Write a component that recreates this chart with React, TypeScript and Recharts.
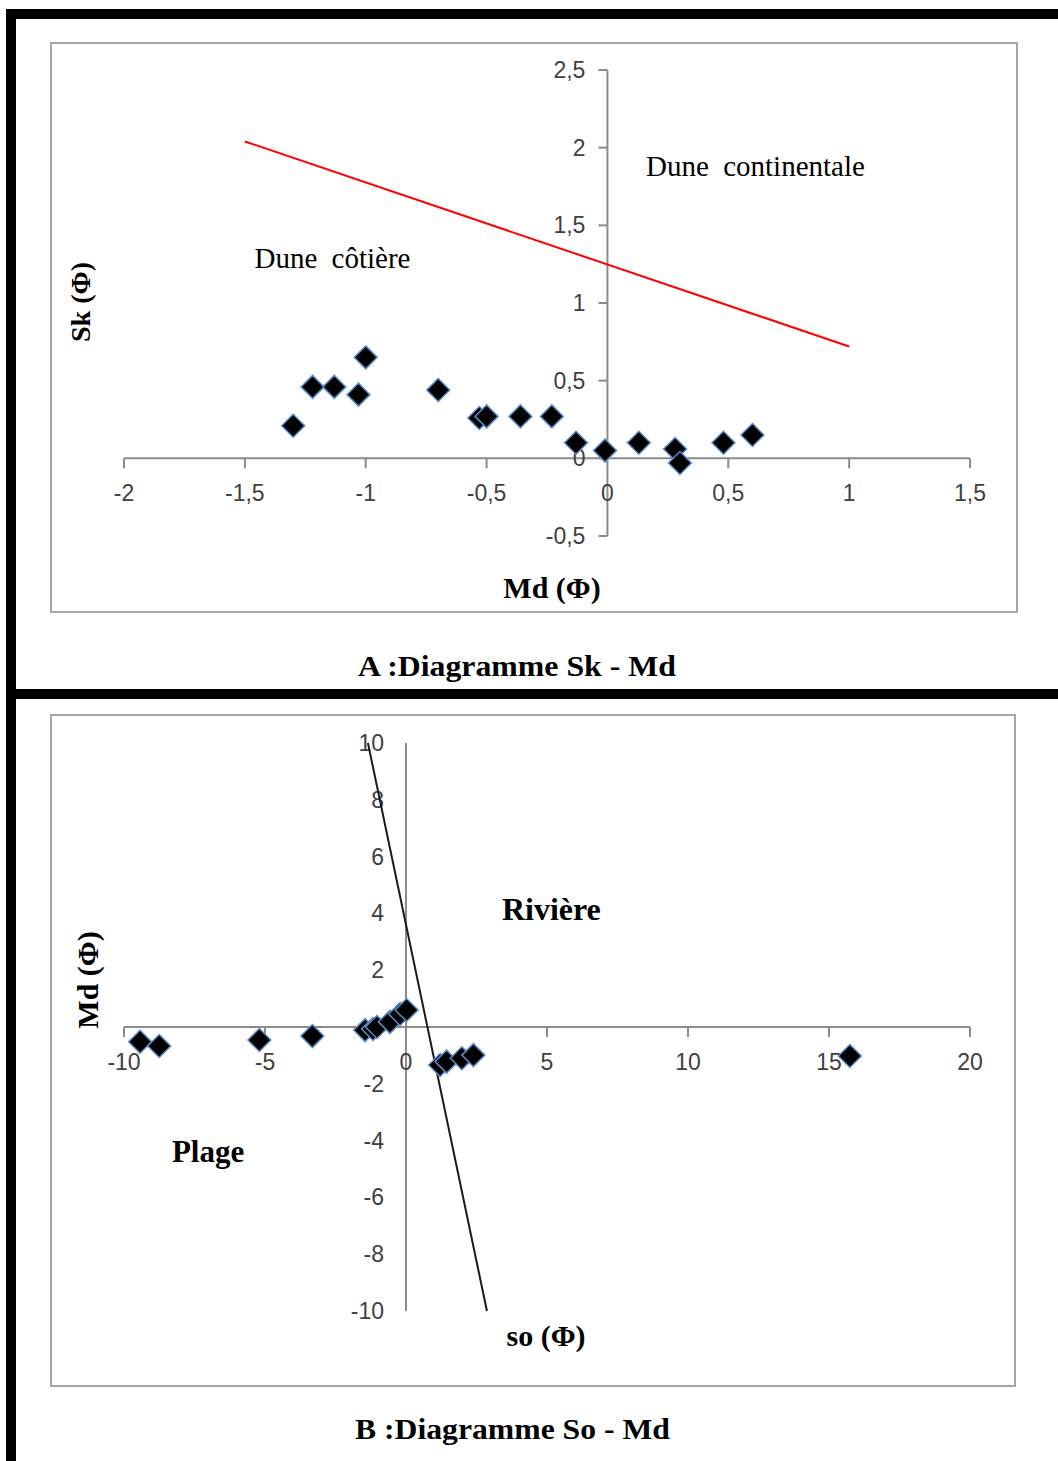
import React from "react";
import {
  ReferenceDot,
  ReferenceLine,
  Scatter,
  ScatterChart,
  XAxis,
  YAxis,
} from "recharts";

// A : Sk - Md
const mdA = [-1.3, -1.22, -1.13, -1.03, -1.0, -0.7, -0.53, -0.5, -0.36, -0.23, -0.13, -0.01, 0.13, 0.28, 0.3, 0.48, 0.6];
const skA = [0.21, 0.46, 0.46, 0.41, 0.65, 0.44, 0.26, 0.27, 0.27, 0.27, 0.1, 0.05, 0.1, 0.06, -0.03, 0.1, 0.15];
const redLineMd = [-1.5, 1];
const redLineSk = [2.04, 0.72];
const xTicksA = [-2, -1.5, -1, -0.5, 0, 0.5, 1, 1.5];
const yTicksA = [-0.5, 0, 0.5, 1, 1.5, 2, 2.5];

// B : So - Md
const soB = [-9.43, -8.75, -5.2, -3.32, -1.45, -1.17, -1.03, -0.57, -0.21, 0.02, 1.21, 1.44, 1.98, 2.39, 15.74];
const mdB = [-0.52, -0.67, -0.46, -0.32, -0.11, -0.07, 0.0, 0.18, 0.46, 0.6, -1.34, -1.22, -1.1, -0.99, -1.02];
const blackLineSo = [-1.35, 2.87];
const blackLineMd = [10, -10];
const xTicksB = [-10, -5, 0, 5, 10, 15, 20];
const yTicksB = [-10, -8, -6, -4, -2, 0, 2, 4, 6, 8, 10];

const pointsA = mdA.map((x, i) => ({ x, y: skA[i] }));
const pointsB = soB.map((x, i) => ({ x, y: mdB[i] }));
const redLine = redLineMd.map((x, i) => ({ x, y: redLineSk[i] }));
const blackLine = blackLineSo.map((x, i) => ({ x, y: blackLineMd[i] }));

const AXIS = "#8c8c8c";
const LABEL = "#404040";
const SANS = "'Liberation Sans', Arial, sans-serif";
const SERIF = "'Liberation Serif', 'Times New Roman', serif";

const fmt = (v: number) => String(v).replace(".", ",");

const Diamond = (props: any) => {
  const { cx, cy } = props;
  const r = 11.5;
  return (
    <path
      d={`M${cx},${cy - r}L${cx + r},${cy}L${cx},${cy + r}L${cx - r},${cy}Z`}
      fill="#000"
      stroke="#5b8bc9"
      strokeWidth={1.5}
    />
  );
};

const NoDot = () => <g />;

const xTick = (v: number, tick: boolean) => (p: any) => (
  <g>
    {tick && <line x1={p.cx} y1={p.cy} x2={p.cx} y2={p.cy + 10} stroke={AXIS} strokeWidth={2} />}
    <text x={p.cx} y={p.cy + 43} textAnchor="middle" fontFamily={SANS} fontSize={23} fill={LABEL}>
      {fmt(v)}
    </text>
  </g>
);

const yTick = (v: number, tick: boolean) => (p: any) => (
  <g>
    {tick && <line x1={p.cx - 9} y1={p.cy} x2={p.cx} y2={p.cy} stroke={AXIS} strokeWidth={2} />}
    <text x={p.cx - 22} y={p.cy + 8} textAnchor="end" fontFamily={SANS} fontSize={23} fill={LABEL}>
      {fmt(v)}
    </text>
  </g>
);

const note = (text: string, bold: boolean, size: number) => (p: any) => (
  <text
    x={p.cx}
    y={p.cy + size * 0.33}
    fontFamily={SERIF}
    fontWeight={bold ? "bold" : "normal"}
    fontSize={size}
    fill="#000"
    style={{ wordSpacing: bold ? 0 : 7 }}
  >
    {text}
  </text>
);

function ChartA() {
  return (
    <ScatterChart width={967} height={570} margin={{ top: 28, right: 47, bottom: 76, left: 74 }}>
      <XAxis type="number" dataKey="x" domain={[-2, 1.5]} hide />
      <YAxis type="number" dataKey="y" domain={[-0.5, 2.5]} hide />
      <ReferenceLine y={0} stroke={AXIS} strokeWidth={2} />
      <ReferenceLine x={0} stroke={AXIS} strokeWidth={2} />
      {xTicksA.map((v) => (
        <ReferenceDot key={"x" + v} x={v} y={0} r={0} shape={xTick(v, v !== 0)} />
      ))}
      {yTicksA.map((v) => (
        <ReferenceDot key={"y" + v} x={0} y={v} r={0} shape={yTick(v, true)} />
      ))}
      <ReferenceDot x={0.16} y={1.88} r={0} shape={note("Dune continentale", false, 29)} />
      <ReferenceDot x={-1.46} y={1.29} r={0} shape={note("Dune côtière", false, 29)} />
      <Scatter
        data={redLine}
        line={{ stroke: "#ff0000", strokeWidth: 2 }}
        shape={NoDot}
        isAnimationActive={false}
      />
      <Scatter data={pointsA} shape={Diamond} isAnimationActive={false} />
    </ScatterChart>
  );
}

function ChartB() {
  return (
    <ScatterChart width={965} height={672} margin={{ top: 29, right: 45, bottom: 75, left: 74 }}>
      <XAxis type="number" dataKey="x" domain={[-10, 20]} hide />
      <YAxis type="number" dataKey="y" domain={[-10, 10]} hide />
      <ReferenceLine y={0} stroke={AXIS} strokeWidth={2} />
      <ReferenceLine x={0} stroke={AXIS} strokeWidth={2} />
      {xTicksB.map((v) => (
        <ReferenceDot key={"x" + v} x={v} y={0} r={0} shape={xTick(v, v !== 0)} />
      ))}
      {yTicksB.map((v) => (
        <ReferenceDot key={"y" + v} x={0} y={v} r={0} shape={yTick(v, false)} />
      ))}
      <ReferenceDot x={3.4} y={4.15} r={0} shape={note("Rivière", true, 32)} />
      <ReferenceDot x={-8.3} y={-4.4} r={0} shape={note("Plage", true, 31)} />
      <Scatter
        data={blackLine}
        line={{ stroke: "#1a1a1a", strokeWidth: 2 }}
        shape={NoDot}
        isAnimationActive={false}
      />
      <Scatter data={pointsB} shape={Diamond} isAnimationActive={false} />
    </ScatterChart>
  );
}

const frame = (left: number, top: number, w: number, h: number): React.CSSProperties => ({
  position: "absolute",
  left,
  top,
  width: w,
  height: h,
  border: "2px solid #a6a6a6",
  boxSizing: "border-box",
});

const bar = (left: number, top: number, w: number, h: number): React.CSSProperties => ({
  position: "absolute",
  left,
  top,
  width: w,
  height: h,
  background: "#000",
});

export default function App() {
  return (
    <div style={{ position: "absolute", left: 0, top: 0, width: 1058, height: 1461, background: "#fff", overflow: "hidden" }}>
      <div style={bar(6, 9, 1052, 10)} />
      <div style={bar(6, 9, 10, 1452)} />
      <div style={bar(6, 689, 1052, 10)} />

      <div style={frame(50, 42, 968, 571)} />
      <div style={frame(50, 714, 966, 673)} />

      <div style={{ position: "absolute", left: 50, top: 42 }}>
        <ChartA />
      </div>
      <div style={{ position: "absolute", left: 50, top: 714 }}>
        <ChartB />
      </div>

      <svg width={1058} height={1461} style={{ position: "absolute", left: 0, top: 0, pointerEvents: "none" }}>
        <g fontFamily={SERIF} fontWeight="bold" fill="#000">
          <text x={80} y={302} fontSize={28} textAnchor="middle" transform="rotate(-90 80 302)" dy={10}>
            Sk (Φ)
          </text>
          <text x={552} y={598} fontSize={30} textAnchor="middle">
            Md (Φ)
          </text>
          <text x={88} y={980} fontSize={30} textAnchor="middle" transform="rotate(-90 88 980)" dy={10}>
            Md (Φ)
          </text>
          <text x={546} y={1346} fontSize={30} textAnchor="middle">
            so (Φ)
          </text>
          <text x={358} y={676} fontSize={30} textLength={318} lengthAdjust="spacingAndGlyphs">
            A :Diagramme Sk - Md
          </text>
          <text x={355} y={1439} fontSize={30} textLength={315} lengthAdjust="spacingAndGlyphs">
            B :Diagramme So - Md
          </text>
        </g>
      </svg>
    </div>
  );
}
